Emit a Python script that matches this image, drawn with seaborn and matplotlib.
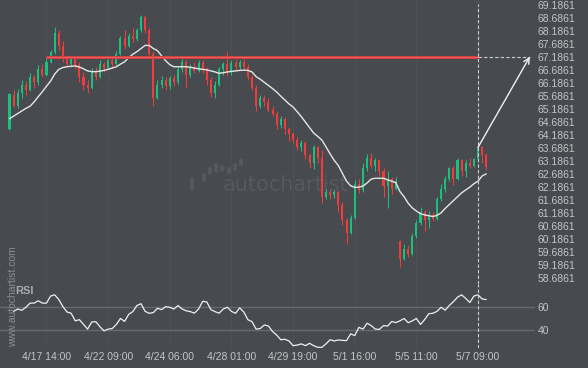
import numpy as np
import pandas as pd
import seaborn as sns
import matplotlib.pyplot as plt
from matplotlib.patches import FancyBboxPatch

# candles (one row per bar)
opens = [64.40, 65.70, 65.30, 65.80, 66.10, 65.90, 66.40, 66.20, 66.70, 66.50,
         67.00, 67.35, 68.10, 67.60, 67.10, 66.90, 67.10, 66.85, 66.40, 66.10,
         66.00, 66.60, 66.40, 66.90, 66.75, 67.05, 66.90, 67.30, 67.90, 67.60,
         68.00, 67.85, 68.20, 68.70, 68.20, 67.30, 65.60, 66.10, 66.30, 66.05,
         66.35, 66.20, 66.70, 67.00, 66.50, 66.80, 66.65, 66.95, 66.70, 66.30,
         65.80, 66.10, 66.70, 66.90, 66.60, 66.95, 66.80, 67.00, 66.80, 66.40,
         66.00, 65.30, 65.60, 65.45, 65.15, 65.00, 64.55, 64.80, 64.40, 64.20,
         64.00, 63.70, 63.85, 63.40, 63.10, 63.70, 63.30, 61.80, 62.00, 61.85,
         62.00, 61.50, 60.90, 60.40, 61.00, 62.30, 62.05, 62.90, 63.30, 63.00,
         63.20, 62.80, 62.20, 62.50, 62.10, 60.10, 59.40, 59.80, 59.60, 60.30,
         60.80, 61.20, 60.90, 61.10, 60.95, 61.70, 62.10, 62.50, 62.90, 62.50,
         63.20, 62.80, 63.10, 63.00, 63.25, 63.70, 63.40]
closes = [65.75, 65.30, 65.80, 66.10, 65.90, 66.40, 66.20, 66.70, 66.50, 67.00,
          67.35, 68.10, 67.60, 67.10, 66.90, 67.10, 66.85, 66.40, 66.10, 66.00,
          66.60, 66.40, 66.90, 66.75, 67.05, 66.90, 67.30, 67.90, 67.60, 68.00,
          67.85, 68.20, 68.70, 68.20, 67.30, 65.60, 66.10, 66.30, 66.05, 66.35,
          66.20, 66.70, 67.00, 66.50, 66.80, 66.65, 66.95, 66.70, 66.30, 65.80,
          66.10, 66.70, 66.90, 66.60, 66.95, 66.80, 67.00, 66.80, 66.40, 66.00,
          65.30, 65.60, 65.45, 65.15, 65.00, 64.55, 64.80, 64.40, 64.20, 64.00,
          63.70, 63.85, 63.40, 63.10, 63.70, 63.30, 61.80, 62.00, 61.85, 62.00,
          61.50, 60.90, 60.40, 61.00, 62.30, 62.05, 62.90, 63.30, 63.00, 63.20,
          62.80, 62.20, 62.50, 62.10, 62.40, 59.40, 59.80, 59.60, 60.30, 60.80,
          61.20, 60.90, 61.10, 60.95, 61.70, 62.10, 62.50, 62.90, 62.50, 63.20,
          62.80, 63.10, 63.00, 63.25, 63.70, 63.40, 62.95]
highs = [65.80, 65.90, 65.95, 66.30, 66.25, 66.55, 66.50, 66.85, 66.90, 67.15,
         67.45, 68.33, 68.20, 67.80, 67.25, 67.20, 67.20, 67.00, 66.60, 66.30,
         66.75, 66.80, 67.05, 67.00, 67.10, 67.20, 67.40, 68.00, 68.20, 68.10,
         68.30, 68.30, 68.79, 68.80, 68.30, 67.40, 66.30, 66.45, 66.40, 66.45,
         66.50, 66.80, 67.10, 67.05, 66.90, 67.00, 67.05, 67.05, 66.80, 66.40,
         66.25, 66.80, 67.00, 67.36, 67.05, 67.10, 67.05, 67.10, 66.90, 66.50,
         66.10, 65.70, 65.70, 65.60, 65.30, 65.10, 64.90, 64.85, 64.50, 64.30,
         64.10, 64.00, 63.95, 63.50, 63.80, 63.75, 63.60, 62.10, 62.05, 62.05,
         62.05, 61.60, 61.00, 61.10, 62.45, 62.50, 63.10, 63.45, 63.48, 63.30,
         63.25, 62.90, 62.80, 62.55, 62.55, 60.15, 60.00, 59.95, 60.40, 60.90,
         61.40, 61.30, 61.25, 61.20, 61.80, 62.30, 62.60, 62.95, 63.00, 63.30,
         63.25, 63.20, 63.30, 63.30, 63.80, 63.75, 63.50]
lows = [64.37, 65.25, 65.20, 65.60, 65.70, 65.85, 66.00, 66.10, 66.40, 66.45,
        66.95, 67.30, 67.45, 67.00, 66.80, 66.80, 66.70, 66.20, 65.90, 65.80,
        65.95, 66.30, 66.35, 66.60, 66.70, 66.80, 66.85, 67.25, 67.50, 67.55,
        67.75, 67.80, 68.15, 68.10, 67.20, 65.30, 65.55, 66.00, 65.90, 65.95,
        66.05, 66.15, 66.60, 66.00, 66.40, 66.55, 66.60, 66.55, 66.10, 65.65,
        65.60, 66.05, 66.50, 66.45, 66.50, 66.70, 66.70, 66.70, 66.30, 65.90,
        65.10, 65.20, 65.30, 65.05, 64.90, 64.40, 64.45, 64.20, 63.95, 63.85,
        63.60, 63.55, 63.25, 62.90, 62.85, 63.10, 61.55, 61.70, 61.70, 61.75,
        61.20, 60.70, 60.00, 60.35, 60.95, 61.95, 62.00, 62.80, 62.90, 62.80,
        62.60, 61.80, 61.36, 61.90, 62.05, 59.11, 59.35, 59.50, 59.55, 60.20,
        60.70, 60.50, 60.60, 60.85, 60.90, 61.65, 62.00, 62.40, 62.25, 62.45,
        62.60, 62.55, 62.90, 62.95, 63.20, 63.10, 62.82]

# moving average (white line), one value per bar
ma = [64.80, 64.90, 65.00, 65.10, 65.20, 65.28, 65.45, 65.65, 65.84, 66.05,
      66.25, 66.52, 66.70, 66.77, 66.80, 66.82, 66.83, 66.79, 66.72, 66.64,
      66.61, 66.61, 66.63, 66.66, 66.70, 66.75, 66.80, 66.90, 66.99, 67.15,
      67.28, 67.38, 67.50, 67.62, 67.62, 67.50, 67.42, 67.22, 67.03, 66.88,
      66.80, 66.80, 66.80, 66.80, 66.78, 66.75, 66.72, 66.70, 66.68, 66.64,
      66.60, 66.55, 66.57, 66.60, 66.62, 66.64, 66.66, 66.67, 66.66, 66.60,
      66.42, 66.32, 66.20, 66.08, 65.96, 65.83, 65.67, 65.52, 65.37, 65.25,
      65.07, 64.88, 64.67, 64.46, 64.25, 64.12, 63.98, 63.72, 63.45, 63.20,
      63.00, 62.70, 62.40, 62.22, 62.16, 62.17, 62.21, 62.33, 62.48, 62.51,
      62.51, 62.51, 62.45, 62.40, 62.34, 62.00, 61.80, 61.55, 61.37, 61.25,
      61.15, 61.10, 61.07, 61.04, 61.08, 61.18, 61.35, 61.50, 61.65, 61.80,
      61.95, 62.06, 62.17, 62.30, 62.40, 62.60, 62.68]

# RSI for bars 1..116
rsi = [56, 58, 57, 59.5, 63, 63, 65, 63, 63,
       69, 70, 66, 60, 55.5, 54.4, 48, 49, 45, 41,
       47, 47.3, 43, 39.5, 41, 41.5, 45, 50, 47.5, 53.5,
       55.8, 61, 62.5, 56, 54.4, 55, 58.6, 57.5, 60, 59.5,
       58, 61, 58, 56.5, 55.8, 54.5, 58, 64.5, 64, 57.5,
       55.8, 54.5, 58, 59.5, 56, 54.4, 59, 55.5, 49, 47.3,
       41, 41.5, 44.5, 43.6, 39, 36, 32, 32.4, 31, 27,
       27.5, 28.5, 27, 29, 27, 25.6, 25.6, 28.5, 32, 31,
       31.8, 31.5, 31.2, 37, 35.5, 42.5, 41, 46, 44, 41,
       40.8, 44, 43.6, 47.5, 46.5, 48, 50, 46.4, 48, 50,
       45, 49, 54, 54.4, 56, 59.5, 57, 61, 64.2, 68,
       70, 67, 63.5, 69, 70, 66.5, 66]

resistance = 67.1861
line_start = 9
signal_bar = 114
arrow_start = 63.70
target_bar = 126.6

date_ticks = [9, 24, 39, 54, 69, 84, 99, 114]
date_labels = ['4/17 14:00', '4/22 09:00', '4/24 06:00', '4/28 01:00',
               '4/29 19:00', '5/1 16:00', '5/5 11:00', '5/7 09:00']
price_ticks = [69.1861, 68.6861, 68.1861, 67.6861, 67.1861, 66.6861, 66.1861,
               65.6861, 65.1861, 64.6861, 64.1861, 63.6861, 63.1861, 62.6861,
               62.1861, 61.6861, 61.1861, 60.6861, 60.1861, 59.6861, 59.1861,
               58.6861]
rsi_ticks = [40, 60]

bg = '#474a4f'
green = '#1bbf80'
red = '#f23b3b'
txt = '#c4c5c7'

sns.set_theme(style='dark')
plt.rcParams['font.family'] = ['Liberation Sans', 'DejaVu Sans']

fig = plt.figure(figsize=(5.88, 3.68), dpi=100, facecolor=bg)
ax = fig.add_axes([0, 0.2283, 0.9099, 0.7717])
ax_rsi = fig.add_axes([0, 0.0543, 0.9099, 0.1740], sharex=ax)

df = pd.DataFrame({'open': opens, 'high': highs, 'low': lows, 'close': closes, 'ma': ma})
df['bar'] = np.arange(len(df))
colors = np.where(df['close'] >= df['open'], green, red)

# faint logo behind the candles
ax.text(223 / 588, 1 - 185 / 368, 'autochartist', transform=fig.transFigure,
        color='#56595e', fontsize=15, va='center', ha='left',
        family='DejaVu Sans', zorder=0.5)
for x0, x1, y0, y1 in [(190, 194, 178, 190), (202, 206, 173, 182), (208, 212, 167, 175),
                       (214, 218, 163, 173), (220, 224, 165, 172), (227, 231, 167, 174),
                       (233, 237, 163, 171), (239, 243, 158, 166)]:
    ax.add_patch(FancyBboxPatch((x0 / 588, 1 - y1 / 368), (x1 - x0) / 588, (y1 - y0) / 368,
                                boxstyle='round,pad=0,rounding_size=0.004',
                                transform=fig.transFigure, color='#55585d', lw=0, zorder=0.5))

# candles
ax.vlines(df['bar'], df['low'], df['high'], colors=colors, lw=0.75, zorder=2)
ax.bar(df['bar'], (df['close'] - df['open']).abs().clip(lower=0.04),
       bottom=df[['open', 'close']].min(axis=1), width=0.5, color=colors,
       linewidth=0, zorder=2)

sns.lineplot(data=df, x='bar', y='ma', ax=ax, color='#e6e6e6', lw=1.0, zorder=3)

# resistance line, signal marker and forecast arrow
ax.plot([line_start, signal_bar], [resistance, resistance], color='#c9403f', lw=2.2,
        solid_capstyle='butt', zorder=4)
ax.plot([line_start, signal_bar], [resistance, resistance], color='#ec5a5a', lw=0.9,
        solid_capstyle='butt', zorder=4)
ax.plot([signal_bar, target_bar], [resistance, resistance], color='#cfcfcf', lw=0.8,
        ls=(0, (3, 2)), zorder=4)
ax.axvline(signal_bar, ymax=0.985, color='#cfcfcf', lw=0.8, ls=(0, (3, 2)), zorder=4)
ax.annotate('', xy=(target_bar, resistance), xytext=(signal_bar, arrow_start),
            arrowprops=dict(arrowstyle='->', color='#f0f0f0', lw=1.0,
                            shrinkA=0, shrinkB=0, mutation_scale=10), zorder=5)

# RSI panel
for level in rsi_ticks:
    ax_rsi.axhline(level, color='#66696d', lw=1.0, zorder=1)
sns.lineplot(x=df['bar'][1:], y=rsi, ax=ax_rsi, color='#f0f0f0', lw=0.9, zorder=3)
ax_rsi.axvline(signal_bar, color='#cfcfcf', lw=0.8, ls=(0, (3, 2)), zorder=4)

for a in (ax, ax_rsi):
    a.set_facecolor(bg)
    for s in a.spines.values():
        s.set_visible(False)
    a.yaxis.tick_right()
    a.set_xlabel('')
    a.set_ylabel('')
    a.tick_params(length=0, colors=txt, labelsize=7.5)
    a.grid(axis='x', color='#4d5055', lw=0.8)
    a.grid(axis='y', visible=False)

ax.set_xlim(-2.31, 127.86)
ax.set_ylim(58.444, 69.367)
ax.set_yticks(price_ticks)
ax.set_yticklabels([f'{v:.4f}' for v in price_ticks])
ax.tick_params(axis='y', pad=2)
ax.tick_params(axis='x', labelbottom=False)

ax_rsi.set_ylim(25.0, 79.2)
ax_rsi.set_yticks(rsi_ticks)
ax_rsi.set_yticklabels([str(v) for v in rsi_ticks])
ax_rsi.tick_params(axis='y', pad=2)
ax_rsi.set_xticks(date_ticks)
ax_rsi.set_xticklabels(date_labels)
ax_rsi.tick_params(axis='x', pad=3)

fig.text(15 / 588, 1 - 291 / 368, 'RSI', fontweight='bold', color='#a9abae',
         fontsize=8, va='center', ha='left')
fig.text(13 / 588, 1 - 297 / 368, 'www.autochartist.com', rotation=90,
         ha='center', va='center', color='#8c8e92', fontsize=7.5)

fig.savefig('out.png', dpi=100, facecolor=bg)
